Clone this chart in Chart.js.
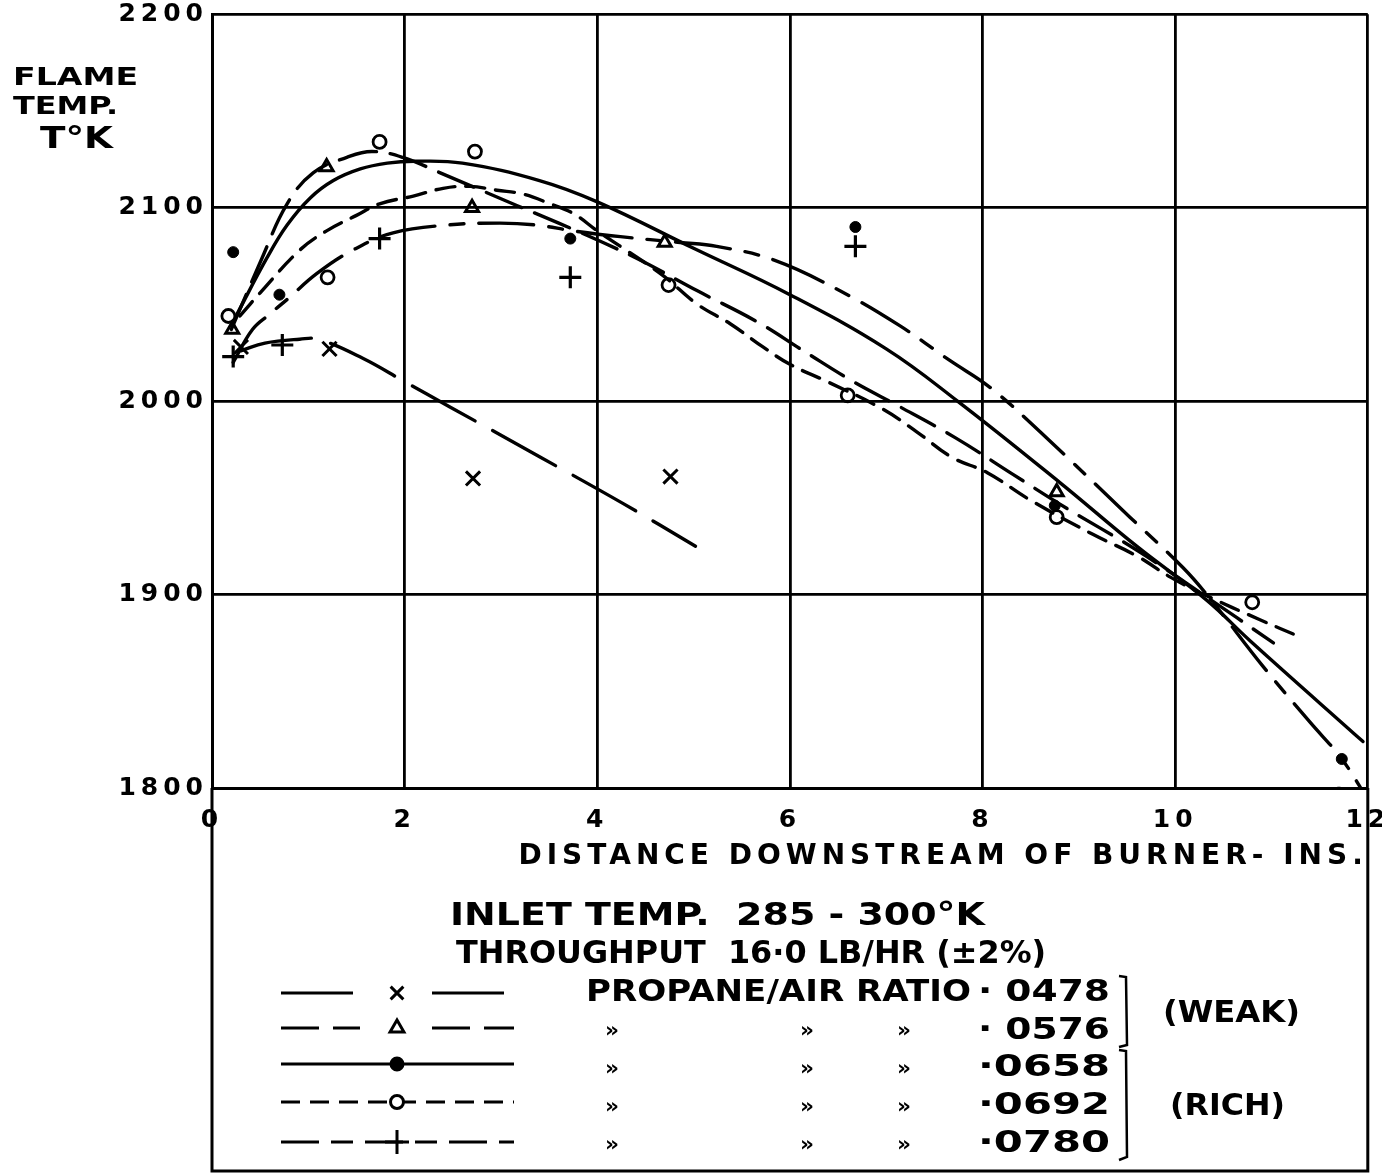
<!DOCTYPE html>
<html><head><meta charset="utf-8">
<script src="https://cdn.jsdelivr.net/npm/chart.js@4.4.1/dist/chart.umd.min.js"></script>
<style>
html,body{margin:0;padding:0;background:#fff;}
#wrap{position:relative;width:1382px;height:1174px;overflow:hidden;}
#c{position:absolute;left:0;top:0;}
.t{position:absolute;font-family:"DejaVu Sans","Liberation Sans",sans-serif;font-weight:bold;color:#000;white-space:pre;line-height:1;transform-origin:0 50%;}
</style></head><body>
<div id="wrap">
<canvas id="c" width="1382" height="1174"></canvas>
<div class="t" data-x="13" data-y="77" data-w="125" data-s="24">FLAME</div>
<div class="t" data-x="13" data-y="106" data-w="105" data-s="24">TEMP.</div>
<div class="t" data-x="40" data-y="138" data-w="73" data-s="30">T°K</div>
<div class="t" data-x="450" data-y="914" data-w="535" data-s="32">INLET TEMP.  285 - 300°K</div>
<div class="t" data-x="456" data-y="952" data-w="590" data-s="32">THROUGHPUT  16·0 LB/HR (±2%)</div>
<div class="t" data-x="586" data-y="991" data-w="385" data-s="30">PROPANE/AIR RATIO</div>
<div class="t" data-x="978" data-y="991" data-w="132" data-s="30">· 0478</div>
<div class="t" data-x="978" data-y="1029" data-w="132" data-s="30">· 0576</div>
<div class="t" data-x="978" data-y="1066" data-w="132" data-s="30">·0658</div>
<div class="t" data-x="978" data-y="1104" data-w="132" data-s="30">·0692</div>
<div class="t" data-x="978" data-y="1142" data-w="132" data-s="30">·0780</div>
<div class="t" data-x="605" data-y="1030" data-w="14" data-s="22">»</div>
<div class="t" data-x="800" data-y="1030" data-w="14" data-s="22">»</div>
<div class="t" data-x="897" data-y="1030" data-w="14" data-s="22">»</div>
<div class="t" data-x="605" data-y="1068" data-w="14" data-s="22">»</div>
<div class="t" data-x="800" data-y="1068" data-w="14" data-s="22">»</div>
<div class="t" data-x="897" data-y="1068" data-w="14" data-s="22">»</div>
<div class="t" data-x="605" data-y="1106" data-w="14" data-s="22">»</div>
<div class="t" data-x="800" data-y="1106" data-w="14" data-s="22">»</div>
<div class="t" data-x="897" data-y="1106" data-w="14" data-s="22">»</div>
<div class="t" data-x="605" data-y="1144" data-w="14" data-s="22">»</div>
<div class="t" data-x="800" data-y="1144" data-w="14" data-s="22">»</div>
<div class="t" data-x="897" data-y="1144" data-w="14" data-s="22">»</div>
<div class="t" data-x="1163" data-y="1012" data-w="137" data-s="30">(WEAK)</div>
<div class="t" data-x="1170" data-y="1105" data-w="115" data-s="30">(RICH)</div>
</div>
<script>
// ---------- DATA ----------
const xTickValues = [0, 2, 4, 6, 8, 10, 12];
const yTickValues = [1800, 1900, 2000, 2100, 2200];
const xTitle = 'DISTANCE DOWNSTREAM OF BURNER- INS.';

// measured points (distance in., flame temp K)
const ptsX_0478 = [0.30, 1.22, 2.71, 4.76];
const ptsY_0478 = [2028, 2027, 1960, 1961];
const ptsX_0576 = [0.21, 1.19, 2.70, 4.70, 8.77];
const ptsY_0576 = [2037, 2121, 2100, 2082, 1953];
const ptsX_0658 = [0.22, 0.70, 3.72, 6.68, 8.75, 11.73];
const ptsY_0658 = [2077, 2055, 2084, 2090, 1946, 1815];
const ptsX_0692 = [0.17, 1.20, 1.74, 2.73, 4.74, 6.60, 8.77, 10.80];
const ptsY_0692 = [2044, 2064, 2134, 2129, 2060, 2003, 1940, 1896];
const ptsX_0780 = [0.22, 0.73, 1.74, 3.72, 6.68, 11.70];
const ptsY_0780 = [2023, 2029, 2084, 2064, 2080, 1795];

// hand-faired curves
const crvX_0478 = [0.30, 0.55, 0.91, 1.10, 1.57, 2.00, 2.47, 3.41, 4.27, 5.02];
const crvY_0478 = [2026, 2030, 2032, 2032, 2022, 2010, 1997, 1971, 1947, 1925];
const crvX_0576 = [0.20, 0.52, 0.78, 1.05, 1.40, 1.66, 1.98, 2.37, 3.17, 3.60, 4.06, 4.48, 5.04, 5.66, 6.14, 6.66, 7.07, 7.72, 8.32, 8.86, 9.60, 10.26, 11.02];
const crvY_0576 = [2037, 2074, 2102, 2118, 2126, 2129, 2126, 2118, 2101, 2092, 2082, 2072, 2057, 2041, 2026, 2010, 1999, 1981, 1962, 1945, 1923, 1901, 1875];
const crvX_0658 = [0.26, 0.57, 0.78, 1.02, 1.26, 1.54, 1.82, 2.10, 2.60, 3.40, 4.00, 5.00, 6.00, 7.00, 7.74, 8.80, 9.60, 10.33, 10.78, 11.95];
const crvY_0658 = [2045, 2074, 2091, 2105, 2114, 2120, 2123, 2124, 2123, 2114, 2103, 2079, 2055, 2027, 2000, 1958, 1925, 1897, 1876, 1824];
const crvX_0692 = [0.29, 0.50, 0.91, 1.19, 1.50, 1.74, 2.09, 2.40, 2.68, 2.96, 3.23, 3.51, 3.75, 4.00, 4.30, 4.68, 5.04, 5.38, 5.72, 6.00, 6.39, 6.96, 7.32, 7.68, 8.05, 8.49, 9.15, 9.60, 9.95, 10.30, 10.88, 11.30];
const crvY_0692 = [2044, 2056, 2078, 2088, 2096, 2102, 2106, 2110, 2111, 2109, 2107, 2102, 2097, 2088, 2078, 2065, 2050, 2040, 2028, 2019, 2010, 1996, 1984, 1971, 1963, 1949, 1931, 1920, 1909, 1900, 1887, 1878];
const crvX_0780 = [0.22, 0.42, 0.60, 0.79, 1.09, 1.46, 1.88, 2.44, 2.99, 3.37, 3.75, 4.24, 4.86, 5.24, 5.83, 6.52, 7.14, 7.66, 8.08, 8.60, 9.53, 10.08, 10.36, 10.91, 11.40, 11.73, 12.00];
const crvY_0780 = [2020, 2037, 2045, 2053, 2066, 2078, 2087, 2091, 2092, 2091, 2088, 2085, 2082, 2080, 2073, 2057, 2039, 2021, 2007, 1984, 1940, 1914, 1898, 1863, 1834, 1815, 1794];

// ---------- helpers ----------
const zip = (xs, ys) => xs.map((x, i) => ({x, y: ys[i]}));
const K = '#000';
const DASH = {
  r0478: [72, 20],
  r0576: [38, 14],
  r0658: [],
  r0692: [19, 11],
  r0780: [55, 15, 14, 15]
};
function curve(xs, ys, dash) {
  return {type: 'line', data: zip(xs, ys), borderColor: K, borderWidth: 3.4, borderDash: dash,
    pointRadius: 0, tension: 0.4, fill: false, borderCapStyle: 'round'};
}
function marks(xs, ys, style, r, filled, bw) {
  return {type: 'scatter', data: zip(xs, ys), showLine: false, pointStyle: style, pointRadius: r,
    pointHoverRadius: r, borderColor: K, pointBorderWidth: bw, backgroundColor: filled ? K : 'rgba(0,0,0,0)',
    pointBackgroundColor: filled ? K : 'rgba(0,0,0,0)', pointBorderColor: K};
}

// ---------- extra drawing: lower box, legend key samples, brackets ----------
const boxPlugin = {
  id: 'box',
  beforeDraw(chart) { chart.ctx.letterSpacing = '5px'; },
  afterDraw(chart) {
    const ctx = chart.ctx, a = chart.chartArea;
    ctx.save();
    ctx.letterSpacing = '0px';
    ctx.strokeStyle = K; ctx.lineWidth = 3;
    ctx.setLineDash([]);
    ctx.beginPath();
    ctx.moveTo(a.left, a.bottom); ctx.lineTo(a.left, 1171); ctx.lineTo(a.right, 1171); ctx.lineTo(a.right, a.bottom);
    ctx.stroke();
    // legend key samples
    const rows = [
      {y: 993,  dash: DASH.r0478, style: 'crossRot', r: 9, fill: false, gap: true},
      {y: 1028, dash: DASH.r0576, style: 'triangle', r: 8, fill: false, gap: true},
      {y: 1064, dash: [], style: 'circle', r: 6, fill: true, gap: false},
      {y: 1102, dash: [19, 10], style: 'circle', r: 6.5, fill: false, gap: false},
      {y: 1142, dash: [38, 12, 22, 12], style: 'cross', r: 12, fill: false, gap: false}
    ];
    rows.forEach(rw => {
      ctx.lineWidth = 3; ctx.setLineDash(rw.dash);
      ctx.beginPath();
      if (rw.gap) { ctx.moveTo(281, rw.y); ctx.lineTo(360, rw.y); ctx.moveTo(432, rw.y); ctx.lineTo(514, rw.y); }
      else { ctx.moveTo(281, rw.y); ctx.lineTo(514, rw.y); }
      ctx.stroke();
      ctx.setLineDash([]);
      ctx.fillStyle = rw.fill ? K : '#fff';
      ctx.lineWidth = 3;
      Chart.helpers.drawPoint(ctx, {pointStyle: rw.style, radius: rw.r, borderWidth: 3}, 397, rw.y);
      if (rw.fill) { ctx.beginPath(); ctx.arc(397, rw.y, rw.r, 0, Math.PI * 2); ctx.fill(); }
    });
    // brackets
    ctx.lineWidth = 2.5; ctx.setLineDash([]);
    ctx.beginPath();
    ctx.moveTo(1119, 976); ctx.lineTo(1126, 977); ctx.lineTo(1127, 1045); ctx.lineTo(1119, 1047);
    ctx.moveTo(1119, 1050); ctx.lineTo(1126, 1051); ctx.lineTo(1127, 1157); ctx.lineTo(1119, 1160);
    ctx.stroke();
    ctx.restore();
  }
};

const tickFont = {family: '"DejaVu Sans", sans-serif', size: 24, weight: 'bold'};

new Chart(document.getElementById('c'), {
  type: 'scatter',
  data: {
    datasets: [
      curve(crvX_0478, crvY_0478, DASH.r0478),
      curve(crvX_0576, crvY_0576, DASH.r0576),
      curve(crvX_0658, crvY_0658, DASH.r0658),
      curve(crvX_0692, crvY_0692, DASH.r0692),
      curve(crvX_0780, crvY_0780, DASH.r0780),
      marks(ptsX_0478, ptsY_0478, 'crossRot', 10, false, 3),
      marks(ptsX_0576, ptsY_0576, 'triangle', 7.5, false, 3),
      marks(ptsX_0658, ptsY_0658, 'circle', 5.5, true, 1),
      marks(ptsX_0692, ptsY_0692, 'circle', 6.5, false, 2.8),
      marks(ptsX_0780, ptsY_0780, 'cross', 11, false, 3.2)
    ]
  },
  options: {
    responsive: false, animation: false, devicePixelRatio: 1,
    layout: {padding: {left: 0, top: 14, right: 14, bottom: 300}},
    plugins: {legend: {display: false}, tooltip: {enabled: false}},
    scales: {
      x: {
        type: 'linear', min: 0, max: 12,
        afterBuildTicks: s => { s.ticks = xTickValues.map(v => ({value: v})); },
        afterFit: s => { s.height = 86; s.paddingLeft = 0; s.paddingRight = 0; },
        grid: {color: K, lineWidth: 2.8, drawTicks: false},
        border: {color: K, width: 3},
        ticks: {color: K, font: {...tickFont, size: 25}, padding: 17, maxRotation: 0, autoSkip: false,
          callback: v => String(v)},
        title: {display: true, text: xTitle, align: 'end', color: K,
          font: {family: '"DejaVu Sans", sans-serif', size: 28, weight: 'bold'}, padding: {top: 0, bottom: 0}}
      },
      y: {
        type: 'linear', min: 1800, max: 2200,
        afterBuildTicks: s => { s.ticks = yTickValues.map(v => ({value: v})); },
        afterFit: s => { s.width = 212; s.paddingTop = 0; s.paddingBottom = 0; },
        grid: {color: K, lineWidth: 2.8, drawTicks: false},
        border: {color: K, width: 3},
        ticks: {color: K, font: {...tickFont, size: 25}, padding: 4, autoSkip: false, callback: v => String(v)}
      }
    }
  },
  plugins: [boxPlugin]
});

// place and fit overlay texts
document.querySelectorAll('.t').forEach(el => {
  const s = +el.dataset.s, x = +el.dataset.x, y = +el.dataset.y, w = +el.dataset.w;
  el.style.fontSize = s + 'px';
  el.style.left = x + 'px';
  el.style.top = (y - 0.5 * s) + 'px';
  const cur = el.getBoundingClientRect().width;
  el.style.transform = 'scaleX(' + (w / cur).toFixed(3) + ')';
});
</script>
</body></html>
